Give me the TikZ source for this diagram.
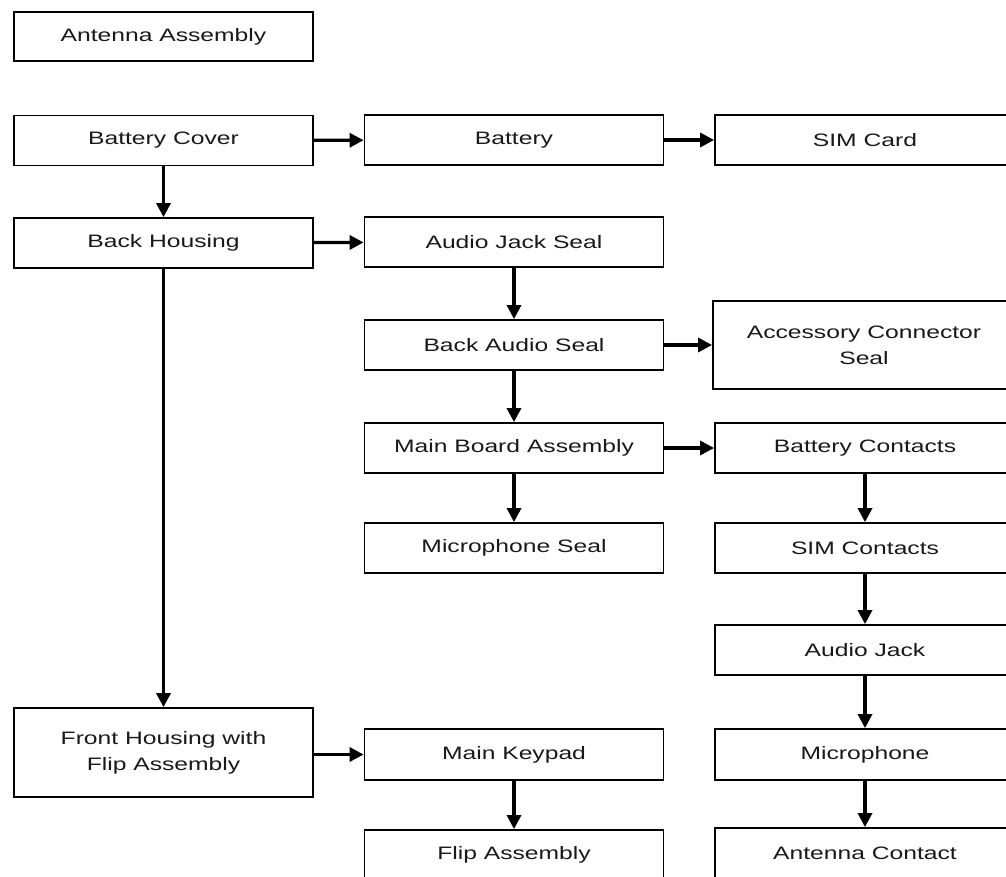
\documentclass[tikz,border=0pt]{standalone}
\usepackage{fontspec}
\setmainfont{Liberation Sans}[FakeStretch=1.37]
\usetikzlibrary{arrows.meta}
\tikzset{
  box/.style={draw=black, line width=1.8pt, fill=white, align=center,
    inner sep=0pt, font=\fontsize{18}{26}\selectfont, text=black!90},
  lbox/.style={box, minimum width=299pt, minimum height=50pt},
  rbox/.style={box, minimum width=300pt, minimum height=50pt},
  conn/.style={line width=3.2pt, -{Triangle[length=14pt,width=14pt]}}
}
\begin{document}
\begin{tikzpicture}[x=1pt,y=-1pt]
\useasboundingbox (0,0) rectangle (1006,877);
\clip (0,0) rectangle (1006,877);
% left column
\node[lbox, minimum height=49pt] (aa) at (163.5,36.5) {Antenna Assembly};
\node[lbox] (bc) at (163.5,140.5) {Battery Cover};
\node[lbox] (bh) at (163.5,243) {Back Housing};
\node[lbox, minimum height=89pt] (fh) at (163.5,752.5) {Front Housing with\\Flip Assembly};
% middle column
\node[lbox] (bat) at (514,140) {Battery};
\node[lbox] (ajs) at (514,242) {Audio Jack Seal};
\node[lbox] (bas) at (514,345) {Back Audio Seal};
\node[lbox] (mba) at (514,448) {Main Board Assembly};
\node[lbox] (ms) at (514,548) {Microphone Seal};
\node[lbox, minimum height=51pt] (mk) at (514,754.5) {Main Keypad};
\node[lbox] (fa) at (514,855) {Flip Assembly};
% right column
\node[rbox] (sim) at (865,140) {SIM Card};
\node[box, minimum width=302pt, minimum height=88pt] (acs) at (864,345) {Accessory Connector\\Seal};
\node[rbox] (bcon) at (865,448) {Battery Contacts};
\node[rbox] (simc) at (865,548) {SIM Contacts};
\node[rbox] (aj) at (865,650) {Audio Jack};
\node[rbox, minimum height=51pt] (mic) at (865,754.5) {Microphone};
\node[rbox] (ac) at (865,853) {Antenna Contact};
% connectors
\draw[conn] (bc) -- (bat);
\draw[conn] (bat) -- (sim);
\draw[conn] (bc) -- (bh);
\draw[conn] (bh) -- (ajs);
\draw[conn] (bh) -- (fh);
\draw[conn] (ajs) -- (bas);
\draw[conn] (bas) -- (acs);
\draw[conn] (bas) -- (mba);
\draw[conn] (mba) -- (bcon);
\draw[conn] (mba) -- (ms);
\draw[conn] (bcon) -- (simc);
\draw[conn] (simc) -- (aj);
\draw[conn] (aj) -- (mic);
\draw[conn] (mic) -- (ac);
\draw[conn] (fh.east |- mk.west) -- (mk.west);
\draw[conn] (mk) -- (fa);
\end{tikzpicture}
\end{document}
